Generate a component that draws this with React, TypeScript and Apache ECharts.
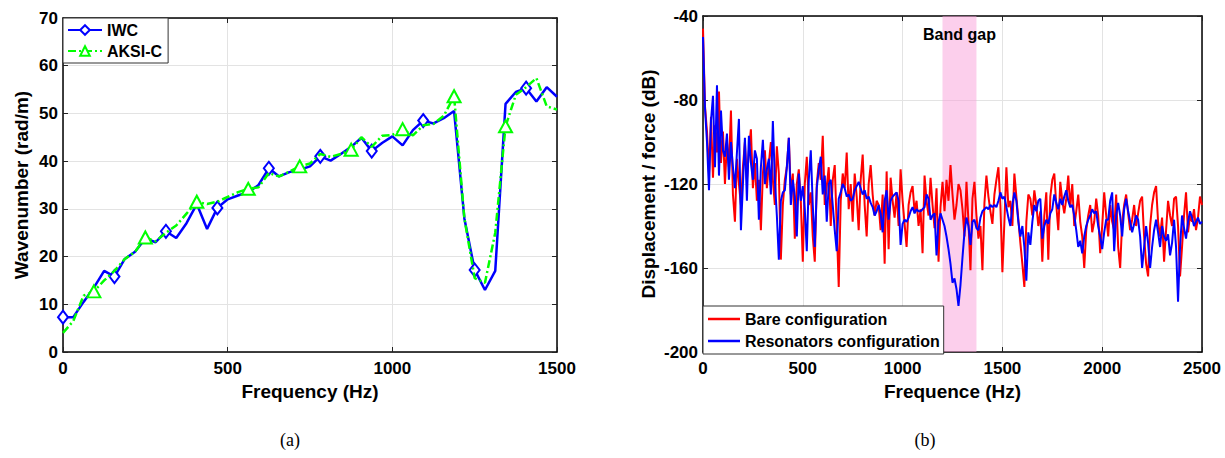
import React, { useEffect, useRef } from "react";
import * as echarts from "echarts";

// ---------- Panel (a): wavenumber vs frequency ----------
const WAVE_STEP_HZ = 31.25;
const iwcValues = [
  7.3, 7.3, 10.5, 13.5, 17, 15.8, 19.5, 21, 23.8, 23, 25.3, 23.9, 27, 31, 25.8, 30.2,
  32, 32.8, 33.5, 35, 38.5, 36.8, 37.7, 38.2, 38.9, 41, 40.1, 41.5, 43, 44.9, 42.1, 43.8,
  45.2, 43.3, 46.5, 48.5, 47.9, 49, 50.5, 28, 17.2, 13, 17, 52, 54.5, 55.3, 52.5, 55.5, 53.5,
];
const aksiValues = [
  4, 6.5, 11.8, 12.7, 15, 17, 19.5, 21, 24, 23.2, 25, 26.5, 29, 31.5, 31, 31.5,
  32.5, 33.5, 34.2, 34.5, 37.5, 36.8, 37.8, 38.9, 39.5, 41.5, 40.9, 41.5, 42.4, 45, 43, 45.3,
  45.5, 46.7, 45.4, 47.5, 47.8, 49.5, 53.6, 28, 15.5, 14.5, 25, 47.3, 53.9, 55.5, 57.4, 51.5, 50.8,
];
const iwcMarkerIdx = [0, 5, 10, 15, 20, 25, 30, 35, 40, 45];
const aksiMarkerIdx = [3, 8, 13, 18, 23, 28, 33, 38, 43];
const waveXTicks = { min: 0, max: 1500, interval: 500 };
const waveYTicks = { min: 0, max: 70, interval: 10 };

// ---------- Panel (b): displacement / force ----------
const FRF_STEP_HZ = 10;
const bareValues = [
  -46, -83, -95, -115, -88, -117, -92, -105, -76, -110,
  -95, -120, -100, -112, -85, -125, -138, -108, -120, -130,
  -112, -100, -118, -104, -94, -122, -110, -128, -118, -142,
  -115, -104, -122, -110, -100, -118, -130, -102, -115, -156,
  -130, -118, -112, -98, -125, -115, -146, -120, -113, -128,
  -157, -120, -107, -130, -124, -145, -157, -120, -110, -118,
  -97, -130, -121, -112, -140, -118, -111, -140, -169, -128,
  -115, -122, -105, -132, -120, -138, -115, -126, -142, -118,
  -106, -130, -145, -120, -111, -125, -135, -128, -130, -142,
  -125, -158, -114, -151, -117, -128, -136, -124, -140, -113,
  -128, -139, -150, -130, -124, -121, -133, -128, -140, -132,
  -153, -116, -128, -135, -117, -130, -141, -122, -157, -131,
  -119, -133, -118, -128, -111, -125, -137, -130, -120, -123,
  -132, -145, -119, -138, -161, -127, -119, -135, -146, -140,
  -161, -129, -116, -126, -133, -139, -125, -118, -112, -130,
  -162, -138, -112, -131, -128, -140, -115, -126, -137, -148,
  -158, -169, -138, -125, -127, -135, -123, -130, -140, -133,
  -157, -135, -124, -156, -126, -118, -115, -130, -142, -119,
  -128, -134, -127, -116, -131, -120, -140, -133, -125, -138,
  -145, -160, -142, -135, -130, -143, -138, -127, -135, -153,
  -140, -124, -135, -145, -130, -138, -142, -125, -150, -160,
  -138, -130, -125, -134, -142, -137, -130, -140, -134, -128,
  -126, -145, -158, -164, -140, -130, -124, -121, -138, -145,
  -136, -157, -142, -128, -135, -140, -127, -126, -140, -164,
  -150, -135, -124, -143, -135, -138, -132, -142, -136, -126,
  -130,
];
const resonatorValues = [
  -50, -84, -100, -123, -90, -78, -112, -73, -116, -85,
  -104, -107, -96, -118, -100, -112, -122, -105, -89, -142,
  -120, -98, -128, -97, -110, -118, -104, -108, -137, -112,
  -99, -120, -113, -108, -125, -90, -118, -135, -156, -128,
  -124, -123, -112, -98, -130, -118, -126, -145, -115, -128,
  -121, -132, -152, -118, -104, -130, -150, -122, -113, -107,
  -125, -116, -138, -120, -118, -130, -142, -152, -127, -124,
  -120, -122, -126, -125, -128, -127, -123, -121, -119, -122,
  -125, -123, -127, -126, -129, -131, -135, -133, -130, -134,
  -143, -128, -123, -137, -128, -126, -125, -124, -128, -149,
  -139, -137, -138, -136, -133, -131, -134, -132, -133, -133,
  -132, -131, -125, -127, -137, -135, -134, -154, -138, -134,
  -137, -140, -145, -151, -158, -167, -165, -170, -178, -168,
  -155, -143, -136, -140, -149, -138, -137, -141, -142, -136,
  -133, -132, -131, -132, -130, -131, -130, -131, -128, -124,
  -127, -126, -131, -136, -140, -130, -124, -128, -138, -145,
  -140, -150, -166, -143, -149, -138, -130, -133, -128, -127,
  -146, -140, -137, -139, -134, -132, -125, -129, -132, -127,
  -130, -126, -123, -128, -131, -130, -135, -142, -150, -147,
  -153, -145, -140, -137, -135, -132, -134, -133, -140, -145,
  -151, -143, -137, -137, -128, -124, -152, -135, -129, -135,
  -145, -132, -127, -133, -138, -143, -139, -135, -137, -145,
  -160, -150, -140, -148, -160, -150, -142, -137, -143, -150,
  -140, -145, -147, -144, -154, -148, -137, -150, -176, -150,
  -135, -141, -146, -138, -133, -136, -140, -138, -136, -139,
  -138,
];
const bandGapHz = [1200, 1370];
const frfXTicks = { min: 0, max: 2500, interval: 500 };
const frfYTicks = { min: -200, max: -40, interval: 40 };

const FONT = '"Liberation Sans", Arial, Helvetica, sans-serif';
const SERIF = '"Liberation Serif", "Times New Roman", serif';

function mainAxis(gridIndex: number, ticks: any, name: string, nameGap: number, isY: boolean) {
  return {
    type: "value",
    gridIndex,
    min: ticks.min,
    max: ticks.max,
    interval: ticks.interval,
    name,
    nameLocation: "middle",
    nameGap,
    nameTextStyle: { color: "#000", fontWeight: "bold", fontSize: 19, fontFamily: FONT },
    axisLine: { show: true, onZero: false, lineStyle: { color: "#000", width: 1.5 } },
    axisTick: { show: true, inside: true, length: 5, lineStyle: { color: "#222", width: 1 } },
    axisLabel: {
      color: "#000",
      fontWeight: "bold",
      fontSize: 17,
      fontFamily: FONT,
      margin: isY ? 5 : 8,
      formatter: (v: number) => String(v),
    },
    splitLine: { show: true, lineStyle: { color: "#e3e3e3", width: 1 } },
  };
}

function boxAxis(gridIndex: number, ticks: any, position: string) {
  return {
    type: "value",
    gridIndex,
    position,
    min: ticks.min,
    max: ticks.max,
    interval: ticks.interval,
    axisLine: { show: true, onZero: false, lineStyle: { color: "#000", width: 1.5 } },
    axisTick: { show: true, inside: true, length: 5, lineStyle: { color: "#222", width: 1 } },
    axisLabel: { show: false },
    splitLine: { show: false },
  };
}

export default function App() {
  const ref = useRef<HTMLDivElement>(null);

  useEffect(() => {
    if (!ref.current) return;
    const chart = echarts.init(ref.current, null, { renderer: "svg" });

    const iwcData = iwcValues.map((v, i) => ({
      value: [i * WAVE_STEP_HZ, v],
      symbol: iwcMarkerIdx.includes(i) ? "emptyDiamond" : "none",
    }));
    const aksiData = aksiValues.map((v, i) => ({
      value: [i * WAVE_STEP_HZ, v],
      symbol: aksiMarkerIdx.includes(i) ? "emptyTriangle" : "none",
    }));
    const bareData = bareValues.map((v, i) => [i * FRF_STEP_HZ, v]);
    const resData = resonatorValues.map((v, i) => [i * FRF_STEP_HZ, v]);

    chart.setOption({
      animation: false,
      backgroundColor: "#fff",
      grid: [
        { left: 63, top: 18, width: 494, height: 334 },
        { left: 703, top: 16, width: 499, height: 336 },
      ],
      xAxis: [
        mainAxis(0, waveXTicks, "Frequency (Hz)", 30, false),
        boxAxis(0, waveXTicks, "top"),
        mainAxis(1, frfXTicks, "Frequence (Hz)", 30, false),
        boxAxis(1, frfXTicks, "top"),
      ],
      yAxis: [
        mainAxis(0, waveYTicks, "Wavenumber (rad/m)", 32, true),
        boxAxis(0, waveYTicks, "right"),
        mainAxis(1, frfYTicks, "Displacement / force (dB)", 45, true),
        boxAxis(1, frfYTicks, "right"),
      ],
      legend: [
        {
          data: ["IWC", "AKSI-C"],
          orient: "vertical",
          left: 63,
          top: 18,
          itemWidth: 34,
          itemHeight: 12,
          itemGap: 5,
          padding: [4, 6, 4, 4],
          backgroundColor: "#fff",
          borderColor: "#333",
          borderWidth: 1,
          borderRadius: 0,
          textStyle: { color: "#000", fontWeight: "bold", fontSize: 16, fontFamily: FONT },
        },
        {
          data: [
            { name: "Bare configuration", icon: "rect" },
            { name: "Resonators configuration", icon: "rect" },
          ],
          orient: "vertical",
          left: 703,
          top: 306,
          itemWidth: 32,
          itemHeight: 2.5,
          itemGap: 6,
          padding: [5, 4, 5, 5],
          backgroundColor: "#fff",
          borderColor: "#333",
          borderWidth: 1,
          borderRadius: 0,
          textStyle: { color: "#000", fontWeight: "bold", fontSize: 16, fontFamily: FONT },
        },
      ],
      series: [
        {
          name: "IWC",
          type: "line",
          xAxisIndex: 0,
          yAxisIndex: 0,
          data: iwcData,
          symbol: "emptyDiamond",
          symbolSize: [10, 13],
          showAllSymbol: true,
          color: "#0000ff",
          lineStyle: { color: "#0000ff", width: 2.5 },
          itemStyle: { color: "#0000ff", borderColor: "#0000ff", borderWidth: 2 },
          z: 3,
        },
        {
          name: "AKSI-C",
          type: "line",
          xAxisIndex: 0,
          yAxisIndex: 0,
          data: aksiData,
          symbol: "emptyTriangle",
          symbolSize: [13, 12],
          showAllSymbol: true,
          color: "#00ff00",
          lineStyle: { color: "#00ff00", width: 2.5, type: [8, 3, 2, 3] },
          itemStyle: { color: "#00ff00", borderColor: "#00ff00", borderWidth: 2 },
          z: 4,
        },
        {
          name: "Bare configuration",
          type: "line",
          xAxisIndex: 2,
          yAxisIndex: 2,
          data: bareData,
          symbol: "none",
          color: "#ff0000",
          lineStyle: { color: "#ff0000", width: 2 },
          z: 3,
          markArea: {
            silent: true,
            itemStyle: { color: "rgba(249,159,217,0.5)" },
            label: {
              show: true,
              position: "insideTop",
              distance: 10,
              formatter: "Band gap",
              color: "#000",
              fontWeight: "bold",
              fontSize: 16,
              fontFamily: FONT,
            },
            data: [[{ xAxis: bandGapHz[0] }, { xAxis: bandGapHz[1] }]],
          },
        },
        {
          name: "Resonators configuration",
          type: "line",
          xAxisIndex: 2,
          yAxisIndex: 2,
          data: resData,
          symbol: "none",
          color: "#0000ff",
          lineStyle: { color: "#0000ff", width: 2 },
          z: 4,
        },
      ],
      graphic: [
        {
          type: "text",
          x: 290,
          y: 440,
          style: { text: "(a)", fontSize: 18, fontFamily: SERIF, fill: "#000", align: "center", verticalAlign: "middle" },
        },
        {
          type: "text",
          x: 925,
          y: 440,
          style: { text: "(b)", fontSize: 18, fontFamily: SERIF, fill: "#000", align: "center", verticalAlign: "middle" },
        },
      ],
    });

    return () => chart.dispose();
  }, []);

  return (
    <div
      ref={ref}
      style={{ position: "absolute", left: 0, top: 0, width: 1225, height: 458, background: "#fff" }}
    />
  );
}
